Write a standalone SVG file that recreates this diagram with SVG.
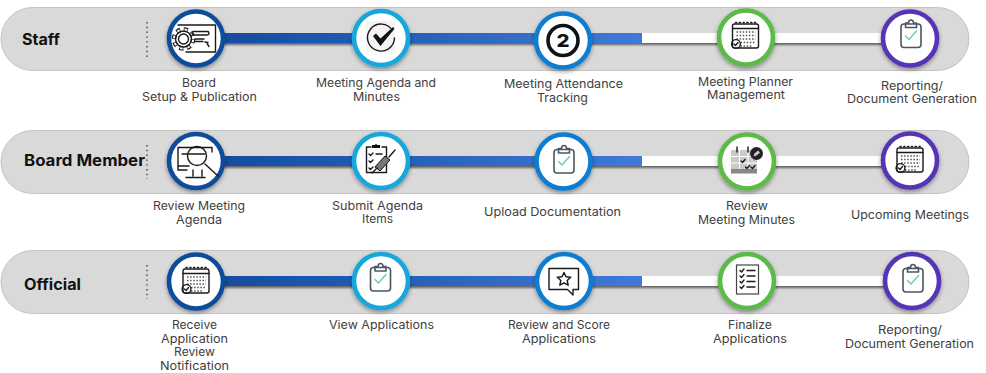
<svg xmlns="http://www.w3.org/2000/svg" xmlns:xlink="http://www.w3.org/1999/xlink" width="986" height="373" viewBox="0 0 986 373">
<style>
text{font-family:Inter,"Open Sans","Liberation Sans",sans-serif}
.l{font-size:11.5px;fill:#404040}
.h{font-size:15.5px;font-weight:700;fill:#111}
.band{fill:#d9d9d9;stroke:#c4c4c4;stroke-width:1}
.dots{fill:none;stroke:#444;stroke-width:1.4;stroke-dasharray:1.4 3.4}
.ring{fill:#fff;stroke-width:4.6;filter:url(#sh)}
.c1{stroke:#0f4b9b}.c2{stroke:#14a8dc}.c3{stroke:#0a7dd1}.c4{stroke:#5bba4a}.c5{stroke:#5535b6}
.k{fill:none;stroke:#1a1a1a;stroke-width:1.4;stroke-linejoin:round;stroke-linecap:round}
.g{fill:none;stroke:#4b5560;stroke-width:1.6;stroke-linejoin:round}
.t{fill:none;stroke:#74cfae;stroke-width:1.6;stroke-linecap:round;stroke-linejoin:round}
.d{fill:none;stroke:#555;stroke-width:1.6;stroke-dasharray:1.5 1.6}
.b{stroke-width:10;fill:none}
</style>
<defs>
<linearGradient id="bl" gradientUnits="userSpaceOnUse" x1="225" y1="0" x2="642" y2="0"><stop offset="0" stop-color="#124da1"/><stop offset="1" stop-color="#407ad9"/></linearGradient>
<filter id="sh" x="-30%" y="-30%" width="160%" height="170%"><feDropShadow dx="0" dy="2" stdDeviation="2" flood-color="#000" flood-opacity=".4"/></filter>
<filter id="ls" filterUnits="userSpaceOnUse" x="0" y="0" width="986" height="373"><feDropShadow dx="0" dy="2" stdDeviation="1" flood-color="#000" flood-opacity=".55"/></filter>
<g id="calendar">
<rect x="-13" y="-12" width="26" height="24" rx="2" fill="#fff" class="k"/>
<path class="k" d="M-13-7.500H13"/>
<path class="k" stroke-dasharray="1.2 2.600" stroke-width="2" d="M-10-13.500H12"/>
<path class="d" d="M-9-4H10M-9-.5H10M-9 3H10M-5 6.500H10M-5 10H6"/>
<circle cx="-9.500" cy="8" r="4.400" fill="#fff" class="k"/>
<path class="k" d="M-11.500 8l1.500 1.500 2.500-3"/>
</g>
<g id="clip">
<rect x="-10" y="-9" width="20" height="23.500" rx="3" class="g"/>
<path class="g" fill="#fff" d="M-5.500-5.500V-10H-2.500A2.500 3 0 0 1 2.500-10H5.500V-5.500z"/>
<path class="t" d="M-5.500 3l3.500 3.500L5.500-2"/>
</g>
</defs>

<g id="bands">
<rect class="band" x="1" y="7.500" width="968" height="63" rx="31.500"/>
<rect class="band" x="1" y="130.500" width="968" height="63" rx="31.500"/>
<rect class="band" x="1" y="250.500" width="968" height="63" rx="31.500"/>
<path class="dots" d="M147 22V57M147 145V179M147 265V299"/>
</g>

<g id="connectors" filter="url(#ls)">
<path class="b" stroke="url(#bl)" d="M196 38H642"/>
<path class="b" stroke="#fff" d="M642 38H910"/>
<path class="b" stroke="url(#bl)" d="M196 161H642"/>
<path class="b" stroke="#fff" d="M642 161H910"/>
<path class="b" stroke="url(#bl)" d="M196 281H642"/>
<path class="b" stroke="#fff" d="M642 281H912"/>
</g>

<text class="h" x="22" y="44.500" textLength="38" lengthAdjust="spacingAndGlyphs">Staff</text>
<text class="h" x="24" y="166" textLength="121" lengthAdjust="spacingAndGlyphs">Board Member</text>
<text class="h" x="24" y="290" textLength="57" lengthAdjust="spacingAndGlyphs">Official</text>

<g id="n-staff-1">
<circle class="ring c1" cx="196" cy="38.500" r="27"/>
<path class="k" stroke-width="1.700" d="M178 25H215.500V52H186"/>
<circle cx="183.500" cy="39" r="9.500" fill="none" stroke="#1a1a1a" stroke-width="4.600" stroke-dasharray="4 3.460"/>
<circle cx="183.500" cy="39" r="9.500" fill="none" stroke="#fff" stroke-width="2.200" stroke-dasharray="2.600 4.860" stroke-dashoffset="-.7"/>
<circle cx="183.500" cy="39" r="8" fill="#fff" class="k"/>
<circle cx="183.500" cy="39" r="5" class="k"/>
<rect x="192" y="31.500" width="17" height="3.500" rx="1.700" class="k" stroke-width="1.700"/>
<path class="k" stroke-width="1.700" d="M195 39H204M195 41.500H203M205 42l3 .5-1 1 2 3"/>
<text class="l" x="182" y="87" textLength="34" lengthAdjust="spacingAndGlyphs">Board</text>
<text class="l" x="142" y="101" textLength="115" lengthAdjust="spacingAndGlyphs">Setup &amp; Publication</text>
</g>
<g id="n-staff-2">
<circle class="ring c2" cx="381" cy="38" r="27"/>
<rect x="366" y="21" width="29" height="31" fill="#f4f4f4"/>
<path class="k" d="M392.500 30.500A13.500 13.500 0 1 0 394.500 38"/>
<path d="M373 36l3-2.500 4.500 5L393 27l1.500 1.800L380.500 46z" fill="#111"/>
<text class="l" x="316" y="87" textLength="120" lengthAdjust="spacingAndGlyphs">Meeting Agenda and</text>
<text class="l" x="353" y="101" textLength="47" lengthAdjust="spacingAndGlyphs">Minutes</text>
</g>
<g id="n-staff-3">
<circle class="ring c3" cx="563" cy="40.500" r="27"/>
<circle cx="563" cy="40.500" r="15" fill="none" stroke="#111" stroke-width="3.600"/>
<text x="556.500" y="47" font-size="18" font-weight="800" fill="#111" textLength="13" lengthAdjust="spacingAndGlyphs">2</text>
<text class="l" x="504" y="88" textLength="119" lengthAdjust="spacingAndGlyphs">Meeting Attendance</text>
<text class="l" x="537" y="102" textLength="51" lengthAdjust="spacingAndGlyphs">Tracking</text>
</g>
<g id="n-staff-4">
<circle class="ring c4" cx="746" cy="37.500" r="27"/>
<use href="#calendar" x="745.500" y="36"/>
<text class="l" x="698" y="85.500" textLength="95" lengthAdjust="spacingAndGlyphs">Meeting Planner</text>
<text class="l" x="707" y="99" textLength="78" lengthAdjust="spacingAndGlyphs">Management</text>
</g>
<g id="n-staff-5">
<circle class="ring c5" cx="910" cy="38.500" r="27"/>
<use href="#clip" x="911" y="33"/>
<text class="l" x="881" y="89.500" textLength="62" lengthAdjust="spacingAndGlyphs">Reporting/</text>
<text class="l" x="847" y="103" textLength="130" lengthAdjust="spacingAndGlyphs">Document Generation</text>
</g>

<g id="n-member-1">
<circle class="ring c1" cx="196" cy="161" r="27"/>
<path class="k" stroke-width="2.200" d="M187 170H178V147.500H212V152M178 166H189M193 170V176M202 170V176M186 177.500H205"/>
<circle cx="197" cy="156" r="9.500" fill="#fff" class="k" stroke-width="2"/>
<path class="k" stroke-width="2.400" d="M182 154H205"/>
<path class="k" stroke-width="3.400" d="M205 164L218 176"/>
<text class="l" x="153" y="210" textLength="92" lengthAdjust="spacingAndGlyphs">Review Meeting</text>
<text class="l" x="176" y="223.500" textLength="46" lengthAdjust="spacingAndGlyphs">Agenda</text>
</g>
<g id="n-member-2">
<circle class="ring c2" cx="381" cy="161" r="27"/>
<path class="k" d="M371 147H366.500V172.500H386.500V147H382"/>
<path d="M372 148v-3h3l1-1.500 1 1.500h3v3z" fill="#111"/>
<path class="k" d="M369 154l1.500 1.500 2.500-2.500M376 154H382M369 161l1.500 1.500 2.500-2.500M369 168l1.500 1.500 2.500-2.500"/>
<path d="M375 167l10-11 5 4-10 11z" fill="#777" stroke="#111"/>
<path class="k" d="M389 157L395 150M372 173L377 168"/>
<text class="l" x="332" y="209.500" textLength="91" lengthAdjust="spacingAndGlyphs">Submit Agenda</text>
<text class="l" x="362" y="223" textLength="31" lengthAdjust="spacingAndGlyphs">Items</text>
</g>
<g id="n-member-3">
<circle class="ring c3" cx="563.500" cy="161.500" r="27"/>
<use href="#clip" x="564" y="158.500"/>
<text class="l" x="484" y="215.500" textLength="137" lengthAdjust="spacingAndGlyphs">Upload Documentation</text>
</g>
<g id="n-member-4">
<circle class="ring c4" cx="747" cy="161.500" r="27"/>
<path d="M731 150H757V173H731z" fill="#c9c9c9"/>
<path d="M731 169H757V173.500H731z" fill="#888"/>
<path d="M739.500 150V169M748 150V169M731 156.500H757M731 163H757" stroke="#fff" stroke-width="1" fill="none"/>
<path class="k" stroke-width="2" d="M737 147V152M748 147V152"/>
<path class="k" d="M741 161l1.500 1.500 2.500-3M745.500 167l1.500 1.500 2.500-3M751 167l1.500 1.500 2.500-3"/>
<circle cx="756.500" cy="153.500" r="6.500" fill="#222"/>
<path d="M753.500 156.500l1-3 3.500-3 2 2-3.500 3z" fill="#ccc"/>
<text class="l" x="726" y="210" textLength="42" lengthAdjust="spacingAndGlyphs">Review</text>
<text class="l" x="698" y="224" textLength="97" lengthAdjust="spacingAndGlyphs">Meeting Minutes</text>
</g>
<g id="n-member-5">
<circle class="ring c5" cx="910" cy="160.500" r="27"/>
<use href="#calendar" x="910" y="160"/>
<text class="l" x="851" y="219" textLength="118" lengthAdjust="spacingAndGlyphs">Upcoming Meetings</text>
</g>

<g id="n-official-1">
<circle class="ring c1" cx="196" cy="281.500" r="27"/>
<use href="#calendar" x="196" y="281"/>
<text class="l" x="172" y="329" textLength="45" lengthAdjust="spacingAndGlyphs">Receive</text>
<text class="l" x="161" y="342.500" textLength="67" lengthAdjust="spacingAndGlyphs">Application</text>
<text class="l" x="174" y="356" textLength="41" lengthAdjust="spacingAndGlyphs">Review</text>
<text class="l" x="160" y="369.500" textLength="69" lengthAdjust="spacingAndGlyphs">Notification</text>
</g>
<g id="n-official-2">
<circle class="ring c2" cx="381" cy="281" r="27"/>
<use href="#clip" x="380.500" y="276.500"/>
<text class="l" x="329" y="329" textLength="105" lengthAdjust="spacingAndGlyphs">View Applications</text>
</g>
<g id="n-official-3">
<circle class="ring c3" cx="564" cy="281" r="27"/>
<path class="k" stroke="#444" stroke-width="1.200" d="M549 268.500H578.500V289.500H573V295L567.500 289.500H549z"/>
<path class="k" d="M564 272.500l2 4.300 4.700.5-3.500 3.200 1 4.700-4.200-2.400-4.200 2.400 1-4.700-3.500-3.200 4.700-.5z"/>
<text class="l" x="508" y="329" textLength="102" lengthAdjust="spacingAndGlyphs">Review and Score</text>
<text class="l" x="522" y="342.500" textLength="74" lengthAdjust="spacingAndGlyphs">Applications</text>
</g>
<g id="n-official-4">
<circle class="ring c4" cx="747" cy="281" r="27"/>
<rect x="736.500" y="265" width="22" height="29" fill="#fff" stroke="#444" stroke-width="1.200"/>
<path class="k" stroke-width="1.200" d="M740 270.500l1.500 1.500 2.500-3M740 276l1.500 1.500 2.500-3M740 281.500l1.500 1.500 2.500-3M740 287l1.500 1.500 2.500-3M747 270.500H755M747 276H755M747 281.500H755M747 287H755"/>
<text class="l" x="728" y="329" textLength="44" lengthAdjust="spacingAndGlyphs">Finalize</text>
<text class="l" x="713" y="342.500" textLength="74" lengthAdjust="spacingAndGlyphs">Applications</text>
</g>
<g id="n-official-5">
<circle class="ring c5" cx="912" cy="281" r="27"/>
<use href="#clip" x="913" y="277.500"/>
<text class="l" x="878" y="334" textLength="64" lengthAdjust="spacingAndGlyphs">Reporting/</text>
<text class="l" x="845" y="347.500" textLength="129" lengthAdjust="spacingAndGlyphs">Document Generation</text>
</g>
</svg>
